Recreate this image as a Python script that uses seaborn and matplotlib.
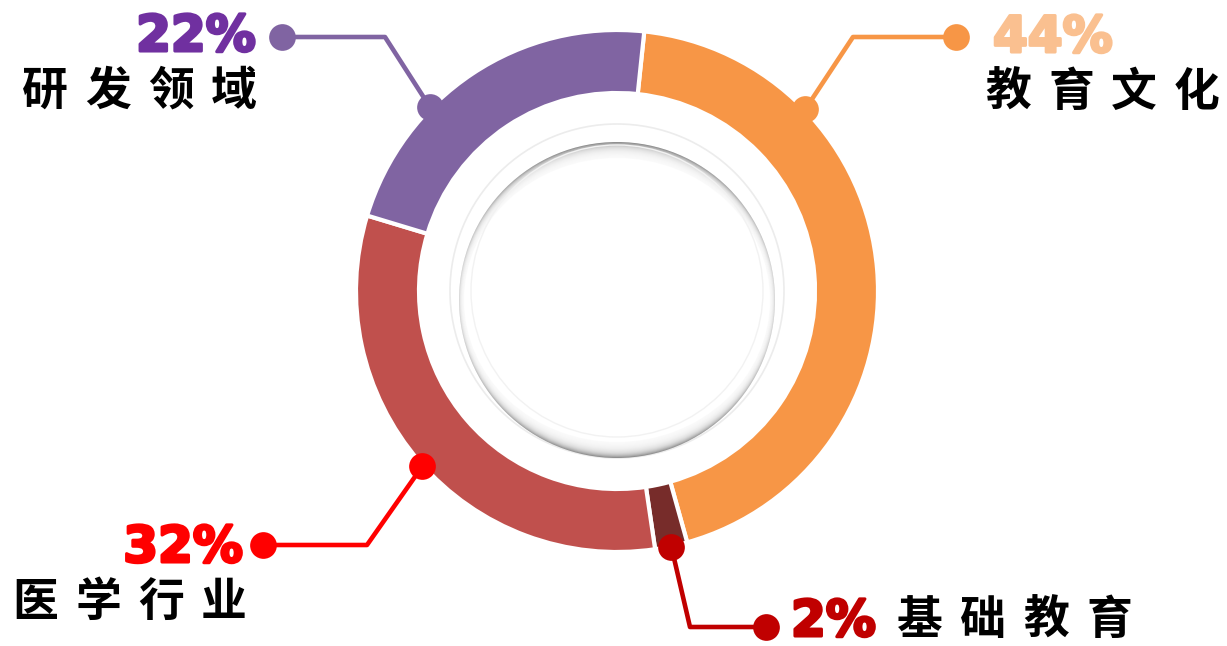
import numpy as np
import seaborn as sns
import matplotlib.pyplot as plt
import matplotlib.patheffects as pe
from matplotlib.patches import Circle, Ellipse

# data
categories = ['教育文化', '基础教育', '医学行业', '研发领域']
shares = [44, 2, 32, 22]
pct_labels = ['44%', '2%', '32%', '22%']

ring_colors = sns.color_palette(['#F79646', '#772C2A', '#C0504D', '#8064A2'])
accent_colors = ['#F79646', '#C00000', '#FF0000', '#8064A2']
pct_colors = ['#FAC090', '#C00000', '#FF0000', '#7030A0']

W, H = 1227, 646
CX, CY = 617, 291          # ring centre, pixel coords (y down)
R_OUT, R_IN = 261, 198
R_ANCHOR = 262
START = 84
PITCH = 63                 # spacing of the chinese characters

# callout layout in pixel coords (y down)
callouts = {
    '教育文化': dict(ang=44, elbow=(853, 37), end=(956, 37),
                 pct=(993, 52, 'left'), name=(985, 106)),
    '基础教育': dict(ang=-78, elbow=(690, 627), end=(766, 627),
                 pct=(791, 636, 'left'), name=(897, 634)),
    '医学行业': dict(ang=-138, elbow=(367, 545), end=(263, 545),
                 pct=(243, 562, 'right'), name=(12, 616)),
    '研发领域': dict(ang=135.5, elbow=(385, 37), end=(282, 37),
                 pct=(256, 51, 'right'), name=(22, 105)),
}


def flip(x, y):
    return x, H - y


sns.set_theme(style='white')
plt.rcParams['font.family'] = ['DejaVu Sans', 'Noto Sans CJK SC']

fig = plt.figure(figsize=(W / 100, H / 100), dpi=100)
ax = fig.add_axes([0, 0, 1, 1])

ax.pie(shares, colors=ring_colors, startangle=START, counterclock=False,
       radius=R_OUT, center=flip(CX, CY),
       wedgeprops=dict(width=R_OUT - R_IN, edgecolor='white', linewidth=3))

# inner plate with soft inset shadow (heavy at top and bottom, faint at sides)
ax.add_patch(Circle(flip(CX, CY), 167, fill=False, edgecolor='#ececec', lw=1.2, zorder=3))
sc = flip(617, 300)
R = 158
ax.add_patch(Circle(sc, R, color='#858585', lw=0, zorder=3))
for k in range(18):
    ax.add_patch(Ellipse(sc, 2 * (R + 1.5 - k * 0.35), 2 * (R - 0.5 - k * 0.85),
                         color='white', alpha=0.19, lw=0, zorder=3))
ax.add_patch(Ellipse(sc, 2 * (R - 5), 2 * (R - 16), color='white', lw=0, zorder=3))
ax.add_patch(Circle(flip(CX, CY), 146, fill=False, edgecolor='#f2f2f2', lw=1, zorder=3))

# callouts
for cat, pct, col, tcol in zip(categories, pct_labels, accent_colors, pct_colors):
    c = callouts[cat]
    a = np.deg2rad(c['ang'])
    anchor = (CX + R_ANCHOR * np.cos(a), CY - R_ANCHOR * np.sin(a))
    pts = [flip(*anchor), flip(*c['elbow']), flip(*c['end'])]
    xs = [p[0] for p in pts]
    ys = [p[1] for p in pts]
    ax.plot(xs, ys, color=col, lw=3.3, solid_capstyle='round', zorder=5)
    ax.scatter([xs[0], xs[-1]], [ys[0], ys[-1]], s=370, color=col,
               linewidths=0, zorder=6)

    px, py, ha = c['pct']
    ax.text(*flip(px, py), pct, color=tcol, fontsize=36, fontweight='bold',
            ha=ha, va='baseline', family=['DejaVu Sans'],
            path_effects=[pe.withStroke(linewidth=2.2, foreground=tcol)])

    nx, ny = c['name']
    for i, ch in enumerate(cat):
        ax.text(*flip(nx + 23 + i * PITCH, ny), ch, color='black', fontsize=33,
                fontweight='bold', ha='center', va='baseline',
                family=['Noto Sans CJK SC', 'DejaVu Sans'])

ax.set_xlim(0, W)
ax.set_ylim(0, H)
ax.set_aspect('equal')
ax.axis('off')

fig.savefig('out.png', dpi=100, facecolor='white')
